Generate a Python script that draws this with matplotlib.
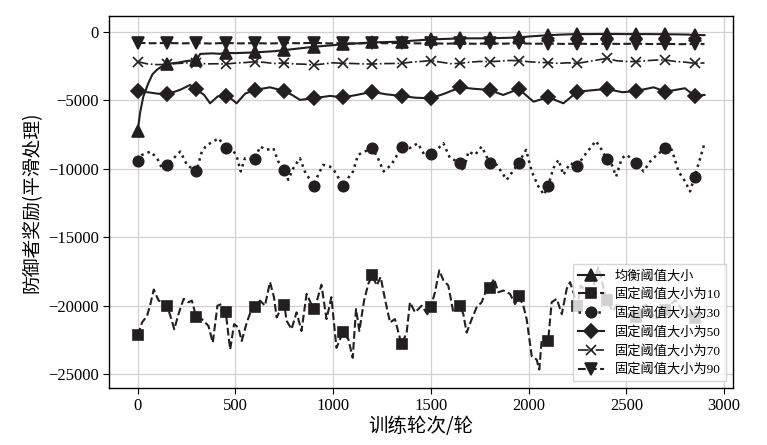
import matplotlib
matplotlib.use("Agg")
import matplotlib.pyplot as plt
import numpy as np

# ---------------- data ----------------
eq_x = [0, 12, 29, 54, 75, 97, 130, 150, 200, 250, 300, 320, 380, 420, 450, 500, 600, 700, 750, 800,
        900, 1000, 1050, 1100, 1200, 1300, 1350, 1400, 1500, 1600, 1650, 1700, 1800, 1900, 1950, 2000,
        2100, 2200, 2250, 2300, 2400, 2500, 2550, 2600, 2700, 2800, 2850, 2900]
eq_y = [-7250, -5900, -4700, -3750, -3100, -2770, -2450, -2330, -2250, -2120, -2050, -1600, -1560, -1590,
        -1530, -1540, -1490, -1400, -1320, -1240, -1080, -960, -900, -850, -760, -720, -700, -640,
        -540, -490, -460, -460, -460, -420, -390, -330, -230, -170, -150, -150, -140, -150, -150,
        -150, -160, -180, -210, -230]

t10_x = [0, 22, 48, 65, 82, 107, 133, 150, 167, 187, 209, 235, 260, 277, 300, 328, 362, 384, 408, 430,
         450, 473, 493, 515, 532, 558, 583, 600, 626, 651, 677, 697, 711, 730, 750, 762, 787, 813, 838,
         864, 900, 915, 940, 966, 991, 1017, 1050, 1078, 1100, 1117, 1134, 1158, 1180, 1200, 1223, 1243,
         1265, 1291, 1316, 1350, 1376, 1393, 1419, 1453, 1482, 1500, 1521, 1543, 1564, 1589, 1615, 1650,
         1666, 1683, 1709, 1734, 1760, 1786, 1800, 1823, 1845, 1871, 1905, 1931, 1950, 1973, 1990, 2016,
         2041, 2055, 2067, 2080, 2100, 2118, 2144, 2170, 2195, 2212, 2229, 2250, 2267, 2298, 2330, 2357,
         2380, 2400, 2430, 2460, 2500, 2550, 2600, 2650, 2700, 2750, 2800, 2850, 2900]
t10_y = [-22165, -21230, -20740, -19880, -18820, -19630, -19750, -20000, -20740, -21720, -20600, -19500,
         -19750, -19630, -20860, -20980, -21480, -22700, -20000, -19880, -20440, -23200, -21350, -21600,
         -22580, -21230, -20250, -20070, -19630, -20000, -18280, -19380, -20860, -20300, -19950, -21100,
         -21720, -20490, -21850, -19140, -20250, -19750, -18470, -20980, -19380, -23080, -21950, -22460,
         -23810, -20250, -21850, -19630, -18400, -17790, -18520, -17910, -19510, -21230, -20980, -22830,
         -21970, -19750, -20490, -20000, -20620, -20070, -19020, -17420, -18150, -18520, -20490, -20000,
         -20620, -21970, -20980, -20120, -19750, -18770, -18720, -18030, -19020, -18890, -19140, -19880,
         -19310, -20000, -20980, -23690, -23940, -24670, -22460, -22300, -22580, -19750, -19500, -20620,
         -18770, -18280, -19020, -20000, -18520, -19020, -18600, -17200, -18500, -19600, -20400, -19800,
         -20600, -20800, -19900, -21000, -20300, -19600, -20600, -20900, -20300]

t30_x = [0, 22, 65, 99, 124, 150, 184, 218, 252, 300, 328, 354, 388, 413, 450, 481, 507, 527, 549, 600,
         626, 660, 694, 719, 750, 770, 796, 830, 855, 900, 923, 949, 983, 1008, 1050, 1076, 1102, 1127,
         1161, 1200, 1229, 1258, 1297, 1323, 1350, 1391, 1433, 1467, 1500, 1530, 1564, 1598, 1650, 1666,
         1692, 1726, 1760, 1800, 1837, 1888, 1919, 1950, 1987, 2016, 2050, 2079, 2100, 2127, 2153, 2178,
         2212, 2250, 2281, 2315, 2344, 2374, 2400, 2426, 2448, 2477, 2502, 2550, 2588, 2622, 2656, 2700,
         2733, 2767, 2801, 2826, 2850, 2878, 2900]
t30_y = [-9420, -8980, -8735, -9220, -9950, -9710, -9220, -8735, -9710, -10190, -8735, -8250, -8000,
         -7760, -8440, -8490, -9100, -10190, -9220, -9270, -8370, -8610, -8490, -9460, -10120, -10800,
         -9950, -9220, -10190, -11220, -10440, -9710, -9830, -10190, -11220, -10680, -10190, -8980,
         -8735, -8490, -9220, -10190, -9710, -9100, -8370, -8490, -8130, -8980, -8900, -8610, -8130,
         -9220, -9540, -10190, -8735, -8980, -8370, -9540, -9710, -10800, -10190, -9540, -8610, -10190,
         -11290, -11900, -11240, -9950, -9340, -10440, -9590, -9780, -9100, -8490, -7960, -8610, -9300,
         -9710, -10560, -9220, -8980, -9540, -10190, -9460, -8980, -8490, -8610, -10190, -10920, -11650,
         -10560, -9220, -8130]

t50_x = [0, 50, 100, 150, 216, 268, 300, 340, 370, 410, 450, 480, 506, 550, 600, 677, 750, 790, 830,
         900, 984, 1050, 1120, 1200, 1270, 1350, 1420, 1500, 1570, 1650, 1720, 1800, 1870, 1950, 2025,
         2100, 2178, 2250, 2330, 2400, 2480, 2550, 2640, 2700, 2800, 2850, 2900]
t50_y = [-4310, -4400, -4500, -4550, -4230, -3870, -4185, -4600, -5210, -4700, -4670, -4900, -5210,
         -4500, -4230, -4040, -4310, -4600, -4960, -4840, -4670, -4770, -4600, -4360, -4550, -4670,
         -4800, -4840, -4500, -4040, -4150, -4230, -4600, -4160, -5090, -4770, -5210, -4360, -4250,
         -4160, -4400, -4310, -4040, -4360, -4110, -4670, -4600]

t70_x = [0, 50, 100, 150, 200, 250, 300, 350, 400, 450, 500, 550, 600, 650, 700, 750, 800, 850, 900,
         950, 1000, 1050, 1100, 1150, 1200, 1250, 1300, 1350, 1400, 1450, 1500, 1550, 1600, 1650, 1700,
         1750, 1800, 1850, 1900, 1950, 2000, 2050, 2100, 2150, 2200, 2250, 2300, 2350, 2400, 2450, 2500,
         2550, 2600, 2650, 2700, 2750, 2800, 2850, 2900]
t70_y = [-2170, -2330, -2380, -2370, -2300, -2260, -2240, -2330, -2320, -2340, -2270, -2230, -2170,
         -2220, -2300, -2250, -2330, -2350, -2410, -2330, -2250, -2290, -2300, -2330, -2340, -2310,
         -2300, -2290, -2200, -2150, -2090, -2200, -2310, -2290, -2200, -2150, -2165, -2130, -2080,
         -2090, -2170, -2220, -2240, -2290, -2250, -2290, -2170, -2050, -1920, -2100, -2150, -2165,
         -2100, -2050, -2040, -2150, -2200, -2290, -2260]

t90_x = [0, 75, 150, 225, 300, 375, 450, 525, 600, 675, 750, 825, 900, 975, 1050, 1125, 1200, 1275,
         1350, 1425, 1500, 1575, 1650, 1725, 1800, 1875, 1950, 2025, 2100, 2175, 2250, 2325, 2400,
         2475, 2550, 2625, 2700, 2775, 2850, 2900]
t90_y = [-790, -820, -800, -830, -810, -840, -800, -830, -810, -840, -800, -820, -790, -830, -810,
         -840, -800, -820, -790, -830, -820, -850, -830, -860, -830, -850, -820, -860, -840, -870,
         -850, -880, -860, -870, -850, -880, -860, -890, -870, -880]

labels = ["均衡阈值大小", "固定阈值大小为10", "固定阈值大小为30",
          "固定阈值大小为50", "固定阈值大小为70", "固定阈值大小为90"]

xticks = [0, 500, 1000, 1500, 2000, 2500, 3000]
yticks = [0, -5000, -10000, -15000, -20000, -25000]

# ---------------- plot ----------------
plt.rcParams['font.family'] = ['Liberation Serif', 'Noto Sans CJK SC']
plt.rcParams['axes.unicode_minus'] = True

fig = plt.figure(figsize=(7.67, 4.45), dpi=100)
ax = fig.add_axes([0.1421, 0.128, 0.8136, 0.836])

c = '#231f20'
series = [
    (eq_x, eq_y, '-', '^', 9, 1.5),
    (t10_x, t10_y, '--', 's', 7.5, 1.5),
    (t30_x, t30_y, ':', 'o', 7.5, 1.8),
    (t50_x, t50_y, '-', 'D', 7.5, 1.5),
    (t70_x, t70_y, '-.', 'x', 7, 1.2),
    (t90_x, t90_y, '--', 'v', 8, 1.5),
]
for (xs, ys, ls, mk, ms, lw), lab in zip(series, labels):
    idx = [i for i, v in enumerate(xs) if v % 150 == 0]
    ax.plot(xs, ys, linestyle=ls, marker=mk, markersize=ms, linewidth=lw,
            color=c, markevery=idx, label=lab, markeredgewidth=1.2)

ax.set_xlim(-147, 3046)
ax.set_ylim(-26020, 1170)
ax.set_xticks(xticks)
ax.set_yticks(yticks)
ax.grid(True, color='#d0d0d0', linewidth=0.9)
ax.set_axisbelow(True)
for s in ax.spines.values():
    s.set_color('black')
    s.set_linewidth(1.0)
ax.tick_params(axis='both', labelsize=12, direction='out', length=4, color='black')

ax.set_xlabel("训练轮次/轮", fontsize=14, family=['Noto Sans CJK SC'], labelpad=1)
ax.set_ylabel("防御者奖励(平滑处理)", fontsize=13.5, family=['Noto Sans CJK SC'], labelpad=4)

leg = ax.legend(loc='lower right', framealpha=0.8, edgecolor='#cccccc',
                fancybox=False, borderaxespad=0.5, handlelength=2.0, labelspacing=0.45,
                prop={'family': ['Liberation Serif', 'Noto Sans CJK SC'], 'size': 9.5})

fig.savefig("out.png", dpi=100)
